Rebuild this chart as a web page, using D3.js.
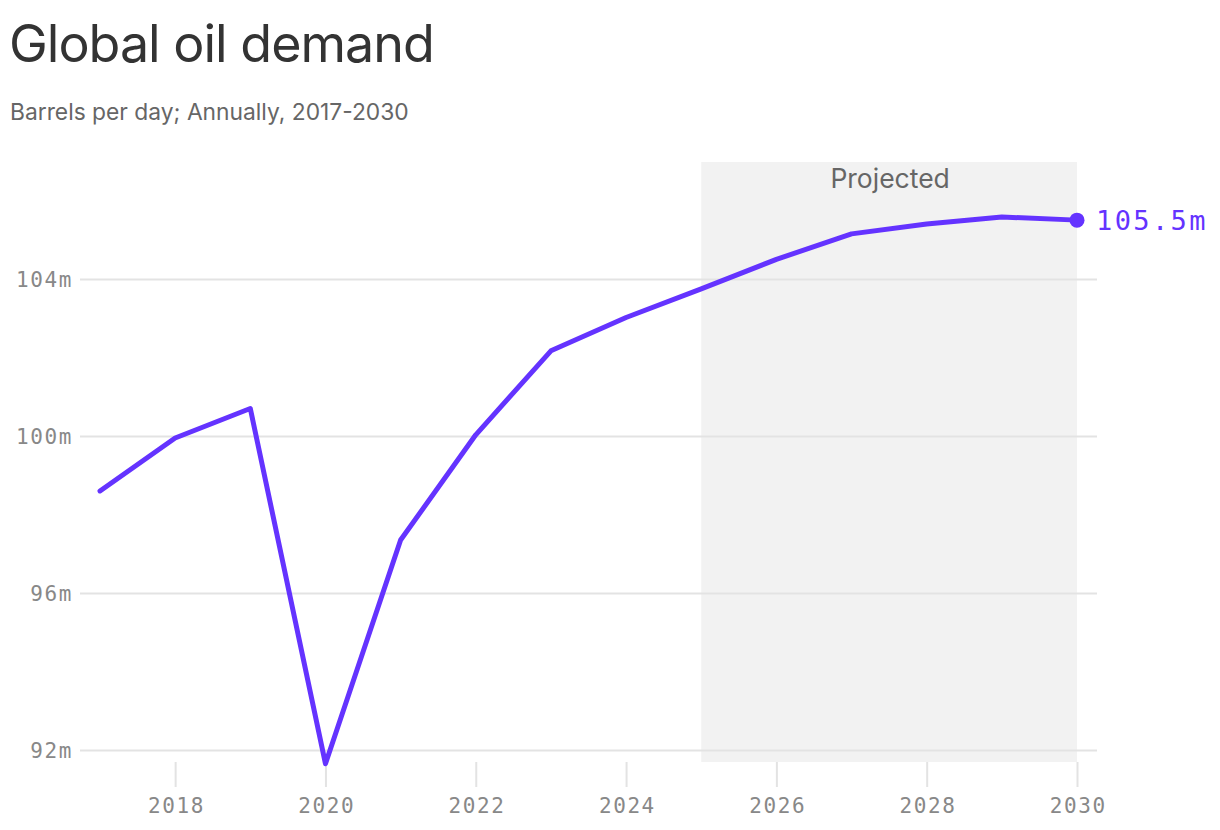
<!DOCTYPE html>
<html>
<head>
<meta charset="utf-8">
<script src="https://cdn.jsdelivr.net/npm/d3@7"></script>
<style>
  html, body { margin: 0; padding: 0; background: #fff; }
  svg { display: block; }
</style>
</head>
<body>
<svg id="chart" width="1220" height="830"></svg>
<script>
const years = [2017, 2018, 2019, 2020, 2021, 2022, 2023, 2024, 2025, 2026, 2027, 2028, 2029, 2030];
const demand = [98.6, 99.95, 100.7, 91.65, 97.35, 100.03, 102.17, 103.02, 103.75, 104.5, 105.15, 105.4, 105.58, 105.5];
const yTicks = [92, 96, 100, 104];
const xTicks = [2018, 2020, 2022, 2024, 2026, 2028, 2030];
const projectedRange = [2025, 2030];
const titleText = "Global oil demand";
const subtitleText = "Barrels per day; Annually, 2017-2030";
const projectedLabel = "Projected";
const endLabel = "105.5m";

const svg = d3.select("#chart");
const purple = "#6433ff";
const mono = "'DejaVu Sans Mono', monospace";
const sans = "Inter, 'Noto Sans', sans-serif";

const x = d3.scaleLinear().domain([2017, 2030]).range([100, 1077]);
const y = d3.scaleLinear().domain([92, 104]).range([750, 279]);

// Title & subtitle
svg.append("text").attr("x", 9).attr("y", 62)
  .attr("font-family", sans).attr("font-size", 52).attr("fill", "#333")
  .attr("letter-spacing", -1)
  .text(titleText);
svg.append("text").attr("x", 10).attr("y", 120)
  .attr("font-family", sans).attr("font-size", 22.8).attr("fill", "#666")
  .text(subtitleText);

// Projected shading
svg.append("rect")
  .attr("x", x(projectedRange[0])).attr("y", 162)
  .attr("width", x(projectedRange[1]) - x(projectedRange[0]))
  .attr("height", 762 - 162)
  .attr("fill", "#f2f2f2");
svg.append("text")
  .attr("x", (x(projectedRange[0]) + x(projectedRange[1])) / 2 + 1).attr("y", 188)
  .attr("text-anchor", "middle")
  .attr("font-family", sans).attr("font-size", 26.5).attr("fill", "#666")
  .text(projectedLabel);

// Y grid + labels
const yAxis = d3.axisLeft(y).tickValues(yTicks).tickSize(-(1097 - 80)).tickPadding(7)
  .tickFormat(d => d + "m");
const gy = svg.append("g").attr("transform", "translate(80,0)").call(yAxis);
gy.select(".domain").remove();
gy.selectAll(".tick line").attr("stroke", "#e3e3e3").attr("stroke-width", 2);
gy.selectAll(".tick text").attr("font-family", mono).attr("font-size", 21)
  .attr("letter-spacing", 1.6).attr("fill", "#888").attr("dy", "0.35em");

// X axis ticks
const xAxis = d3.axisBottom(x).tickValues(xTicks).tickSize(25).tickPadding(11)
  .tickFormat(d3.format("d"));
const gx = svg.append("g").attr("transform", "translate(0,762)").call(xAxis);
gx.select(".domain").remove();
gx.selectAll(".tick line").attr("stroke", "#e3e3e3").attr("stroke-width", 2);
gx.selectAll(".tick text").attr("font-family", mono).attr("font-size", 21)
  .attr("letter-spacing", 1.6).attr("fill", "#888").attr("dx", "0.8");

// Line
const line = d3.line().x((d, i) => x(years[i])).y(d => y(d));
svg.append("path").datum(demand)
  .attr("d", line).attr("fill", "none")
  .attr("stroke", purple).attr("stroke-width", 5)
  .attr("stroke-linejoin", "round").attr("stroke-linecap", "round");

// End point + label
const last = demand.length - 1;
svg.append("circle").attr("cx", x(years[last])).attr("cy", y(demand[last]))
  .attr("r", 7.5).attr("fill", purple);
svg.append("text").attr("x", x(years[last]) + 19).attr("y", y(demand[last]))
  .attr("dy", "0.35em")
  .attr("font-family", mono).attr("font-size", 27).attr("letter-spacing", 2.4)
  .attr("fill", purple).text(endLabel);
</script>
</body>
</html>
